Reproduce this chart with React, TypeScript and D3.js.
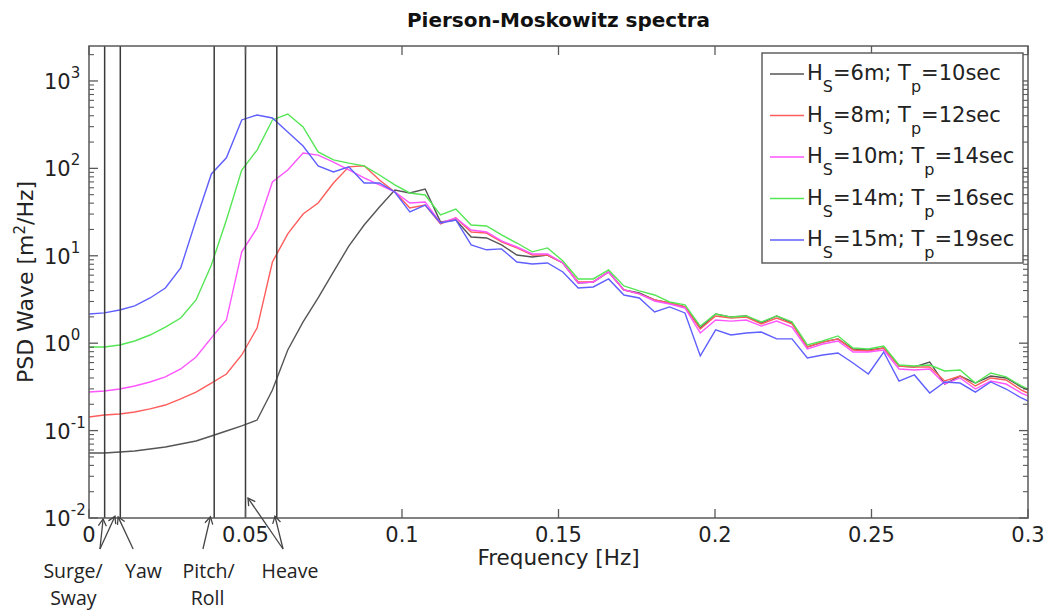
import React from "react";
import * as d3 from "d3";

// Frequency grid [Hz]
const frequency = [
  0, 0.0049, 0.0098, 0.0146, 0.0195, 0.0244, 0.0293, 0.0342, 0.0391, 0.0439,
  0.0488, 0.0537, 0.0586, 0.0635, 0.0684, 0.0732, 0.0781, 0.083, 0.0879, 0.0928,
  0.0977, 0.1025, 0.1074, 0.1123, 0.1172, 0.1221, 0.127, 0.1318, 0.1367, 0.1416,
  0.1465, 0.1514, 0.1563, 0.1611, 0.166, 0.1709, 0.1758, 0.1807, 0.1855, 0.1904,
  0.1953, 0.2002, 0.2051, 0.21, 0.2148, 0.2197, 0.2246, 0.2295, 0.2344, 0.2393,
  0.2441, 0.249, 0.2539, 0.2588, 0.2637, 0.2686, 0.2734, 0.2783, 0.2832, 0.2881,
  0.293, 0.2979, 0.3027,
];

// PSD values [m^2/Hz]
const psdHs6Tp10 = [
  0.0554, 0.0554, 0.0569, 0.0584, 0.0616, 0.0649, 0.0703, 0.076, 0.0867, 0.0989,
  0.113, 0.132, 0.291, 0.836, 1.75, 3.29, 6.53, 12.9, 22.5, 36.2,
  56.6, 52.3, 58.1, 24.4, 25.7, 16.4, 16.0, 13.3, 10.2, 9.69,
  10.2, 8.27, 4.89, 5.02, 6.53, 4.06, 3.75, 3.12, 2.88, 2.6,
  1.49, 2.16, 1.99, 2.05, 1.7, 2.05, 1.7, 0.905, 1.03, 1.12,
  0.858, 0.836, 0.881, 0.548, 0.534, 0.609, 0.341, 0.421, 0.35, 0.421,
  0.4, 0.315, 0.262,
];
const psdHs8Tp12 = [
  0.143, 0.151, 0.155, 0.163, 0.177, 0.196, 0.23, 0.276, 0.35, 0.444,
  0.733, 1.49, 8.49, 17.8, 30.1, 40.2, 68.1, 104, 107, 73.7,
  53.7, 35.2, 38.1, 23.1, 27.1, 18.7, 18.2, 14.4, 12.3, 10.2,
  10.2, 8.27, 5.02, 5.02, 6.53, 4.06, 3.66, 3.12, 2.88, 2.6,
  1.45, 2.05, 1.94, 1.99, 1.66, 1.94, 1.66, 0.905, 1.03, 1.12,
  0.836, 0.814, 0.881, 0.548, 0.534, 0.534, 0.369, 0.421, 0.324, 0.4,
  0.379, 0.291, 0.242,
];
const psdHs10Tp14 = [
  0.276, 0.284, 0.299, 0.324, 0.36, 0.411, 0.507, 0.695, 1.15, 1.84,
  11.1, 20.8, 69.9, 95.9, 150, 142, 118, 95.9, 77.7, 64.6,
  53.7, 40.2, 41.3, 23.7, 27.1, 19.7, 18.7, 14.8, 12.6, 10.5,
  10.5, 8.27, 4.89, 5.02, 6.53, 4.06, 3.66, 3.04, 2.81, 2.53,
  1.31, 1.84, 1.79, 1.84, 1.57, 1.79, 1.53, 0.858, 0.979, 1.06,
  0.793, 0.793, 0.836, 0.507, 0.494, 0.507, 0.341, 0.4, 0.299, 0.369,
  0.341, 0.269, 0.224,
];
const psdHs14Tp16 = [
  0.905, 0.905, 0.954, 1.06, 1.24, 1.53, 1.94, 3.12, 7.85, 25.7,
  95.9, 162, 358, 419, 298, 154, 125, 115, 107, 84.0,
  64.6, 52.3, 49.6, 29.3, 34.3, 22.5, 21.9, 17.3, 14.0, 11.1,
  12.3, 8.72, 5.43, 5.43, 6.88, 4.51, 3.96, 3.56, 2.96, 2.74,
  1.57, 2.16, 1.99, 2.05, 1.75, 2.05, 1.75, 0.954, 1.06, 1.21,
  0.881, 0.858, 0.929, 0.563, 0.548, 0.563, 0.481, 0.494, 0.35, 0.456,
  0.411, 0.324, 0.269,
];
const psdHs15Tp19 = [
  2.16, 2.22, 2.4, 2.67, 3.29, 4.28, 7.25, 25.7, 86.3, 132,
  358, 408, 377, 261, 180, 107, 90.9, 104, 68.1, 68.1,
  53.7, 31.7, 38.1, 23.7, 25.7, 13.3, 11.7, 12.0, 8.49, 8.06,
  8.27, 6.53, 4.28, 4.4, 5.43, 3.56, 3.29, 2.28, 2.6, 2.22,
  0.714, 1.42, 1.24, 1.31, 1.34, 1.12, 1.12, 0.677, 0.733, 0.773,
  0.594, 0.444, 0.793, 0.369, 0.433, 0.269, 0.36, 0.35, 0.276, 0.36,
  0.299, 0.236, 0.196,
];

const seriesValues = [psdHs6Tp10, psdHs8Tp12, psdHs10Tp14, psdHs14Tp16, psdHs15Tp19];
const legendHs = ["6", "8", "10", "14", "15"];
const legendTp = ["10", "12", "14", "16", "19"];
const seriesColors = ["#555555", "#ff5c5c", "#ff55ff", "#55e655", "#5f5fff"];

const modeFrequencies = [0.005, 0.01, 0.04, 0.05, 0.06];
const xTickValues = [0, 0.05, 0.1, 0.15, 0.2, 0.25, 0.3];
const xTickLabels = ["0", "0.05", "0.1", "0.15", "0.2", "0.25", "0.3"];
const yDecades = [-2, -1, 0, 1, 2, 3];
const yDecadeLabels = ["-2", "-1", "0", "1", "2", "3"];

// Annotation arrows: tail (frequency, px below axis) -> tip (frequency, value)
const arrowTailFreq = [0.0035, 0.0035, 0.0141, 0.0364, 0.062, 0.062];
const arrowTipFreq = [0.0045, 0.0083, 0.0093, 0.0388, 0.0508, 0.0594];
const arrowTipValue = [0.00975, 0.0105, 0.0103, 0.0103, 0.0169, 0.0105];
const annotationText = ["Surge/", "Sway", "Yaw", "Pitch/", "Roll", "Heave"];
const annotationFreq = [-0.0051, -0.005, 0.0174, 0.0382, 0.0379, 0.0642];
const annotationRow = [0, 1, 0, 0, 1, 0];

const W = 1047;
const H = 612;
const left = 89;
const right = 1028;
const top = 46;
const bottom = 518;

const FONT = "'DejaVu Sans', sans-serif";

export default function App() {
  const x = d3.scaleLinear().domain([0, 0.3]).range([left, right]);
  const y = d3.scaleLog().domain([1e-2, 2512]).range([bottom, top]);

  const line = d3
    .line<number>()
    .x((_, i) => x(frequency[i]))
    .y((d) => y(d));

  const minorTicks: number[] = [];
  yDecades.forEach((e) => {
    for (let m = 2; m <= 9; m++) {
      const v = m * Math.pow(10, e);
      if (v < y.domain()[1]) minorTicks.push(v);
    }
  });

  const axisColor = "#5a5a5a";
  const majorLen = 9;
  const minorLen = 5;

  return (
    <svg width={W} height={H} style={{ display: "block", position: "absolute", left: 0, top: 0 }}>
      <defs>
        <clipPath id="plotClip">
          <rect x={left} y={top} width={right - left} height={bottom - top} />
        </clipPath>
        <marker
          id="arrowHead"
          markerUnits="userSpaceOnUse"
          markerWidth={16}
          markerHeight={16}
          refX={8}
          refY={8}
          orient="auto"
        >
          <path d="M1,4 L8,8 L1,12" fill="none" stroke="#444" strokeWidth={1.3} />
        </marker>
      </defs>
      <rect x={0} y={0} width={W} height={H} fill="#fff" />

      {/* Title */}
      <text x={(left + right) / 2} y={27} textAnchor="middle" fontFamily={FONT} fontWeight="bold" fontSize={20} fill="#111">
        Pierson-Moskowitz spectra
      </text>

      {/* Series */}
      <g clipPath="url(#plotClip)">
        {seriesValues.map((vals, k) => (
          <path key={k} d={line(vals) || ""} fill="none" stroke={seriesColors[k]} strokeWidth={1.4} />
        ))}
        {modeFrequencies.map((f, k) => (
          <line key={k} x1={x(f)} x2={x(f)} y1={top} y2={bottom} stroke="#3a3a3a" strokeWidth={1.5} />
        ))}
      </g>

      {/* Axes frame */}
      <rect x={left} y={top} width={right - left} height={bottom - top} fill="none" stroke={axisColor} strokeWidth={1.5} />

      {/* X ticks */}
      {xTickValues.map((t, k) => (
        <g key={k}>
          <line x1={x(t)} x2={x(t)} y1={bottom} y2={bottom - majorLen} stroke={axisColor} strokeWidth={1.3} />
          <line x1={x(t)} x2={x(t)} y1={top} y2={top + majorLen} stroke={axisColor} strokeWidth={1.3} />
          <text x={x(t)} y={542} textAnchor="middle" fontFamily={FONT} fontSize={21} fill="#222">
            {xTickLabels[k]}
          </text>
        </g>
      ))}

      {/* Y ticks */}
      {yDecades.map((e, k) => {
        const ty = y(Math.pow(10, e));
        return (
          <g key={k}>
            <line x1={left} x2={left + majorLen} y1={ty} y2={ty} stroke={axisColor} strokeWidth={1.3} />
            <line x1={right} x2={right - majorLen} y1={ty} y2={ty} stroke={axisColor} strokeWidth={1.3} />
            <text x={44} y={ty + 8} fontFamily={FONT} fontSize={21} fill="#222">
              <tspan>10</tspan>
              <tspan dy={-11} fontSize={15}>
                {yDecadeLabels[k]}
              </tspan>
            </text>
          </g>
        );
      })}
      {minorTicks.map((v, k) => (
        <g key={k}>
          <line x1={left} x2={left + minorLen} y1={y(v)} y2={y(v)} stroke={axisColor} strokeWidth={1.1} />
          <line x1={right} x2={right - minorLen} y1={y(v)} y2={y(v)} stroke={axisColor} strokeWidth={1.1} />
        </g>
      ))}

      {/* Axis labels */}
      <text x={(left + right) / 2} y={565} textAnchor="middle" fontFamily={FONT} fontSize={21.5} fill="#222">
        Frequency [Hz]
      </text>
      <text transform={`translate(33, ${(top + bottom) / 2}) rotate(-90)`} textAnchor="middle" fontFamily={FONT} fontSize={22} fill="#222">
        <tspan>PSD Wave [m</tspan>
        <tspan dy={-8} fontSize={15}>2</tspan>
        <tspan dy={8}>/Hz]</tspan>
      </text>

      {/* Legend */}
      <g>
        <rect x={762} y={53} width={261} height={210} fill="#fff" stroke="#555" strokeWidth={1.4} />
        {legendHs.map((hs, k) => {
          const base = 80 + k * 41.5;
          return (
            <g key={k}>
              <line x1={770} x2={804} y1={base - 6} y2={base - 6} stroke={seriesColors[k]} strokeWidth={1.6} />
              <text x={807} y={base} fontFamily={FONT} fontSize={21} fill="#222">
                <tspan>H</tspan>
                <tspan dy={12} fontSize={16}>S</tspan>
                <tspan dy={-12}>{`=${hs}m; T`}</tspan>
                <tspan dy={12} fontSize={16}>p</tspan>
                <tspan dy={-12}>{`=${legendTp[k]}sec`}</tspan>
              </text>
            </g>
          );
        })}
      </g>

      {/* Annotations */}
      {arrowTailFreq.map((f, k) => (
        <line
          key={k}
          x1={x(f)}
          y1={bottom + 31}
          x2={x(arrowTipFreq[k])}
          y2={y(arrowTipValue[k])}
          stroke="#444"
          strokeWidth={1.3}
          markerEnd="url(#arrowHead)"
        />
      ))}
      {annotationText.map((t, k) => (
        <text
          key={k}
          x={x(annotationFreq[k])}
          y={bottom + 60 + annotationRow[k] * 27}
          textAnchor="middle"
          fontFamily="'Open Sans', sans-serif"
          fontSize={19.5}
          fill="#222"
        >
          {t}
        </text>
      ))}
    </svg>
  );
}
